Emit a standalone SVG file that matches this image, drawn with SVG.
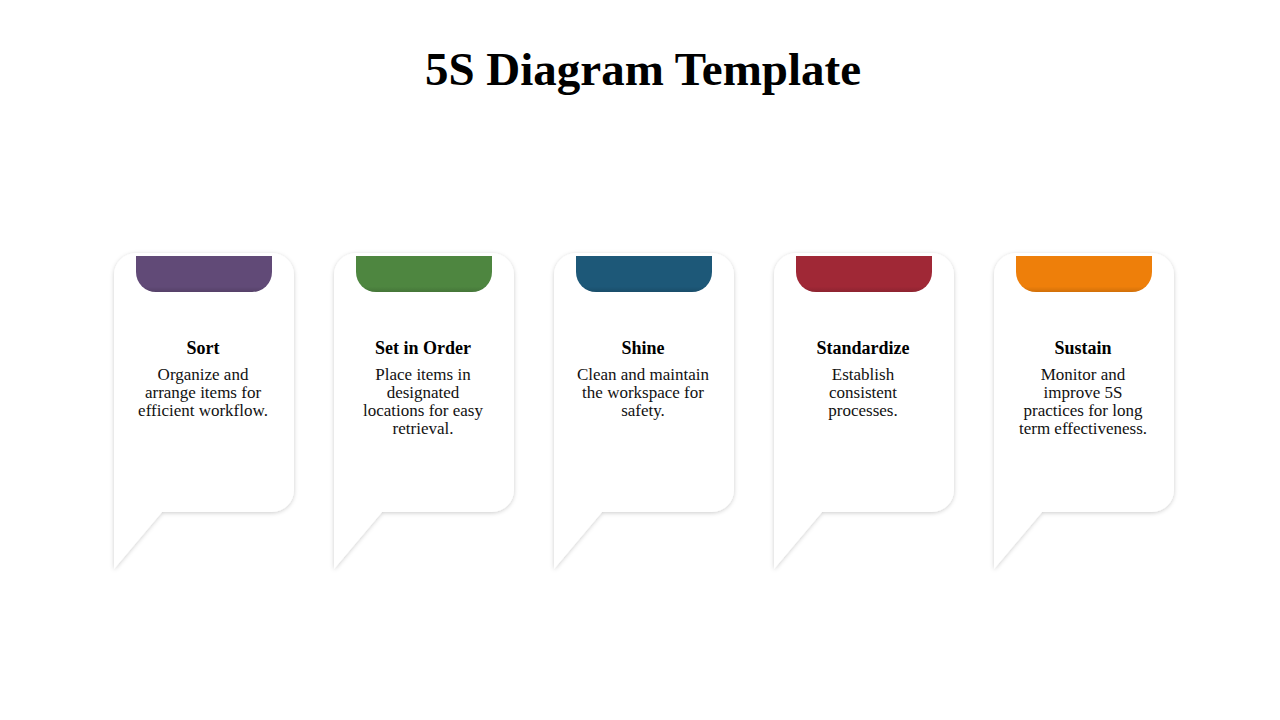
<svg xmlns="http://www.w3.org/2000/svg" width="1280" height="720" viewBox="0 0 1280 720">
<style>
.title{font-family:"Liberation Serif","DejaVu Serif",serif;font-weight:bold;font-size:47px;fill:#000;text-anchor:middle}
.head{font-family:"Liberation Serif","DejaVu Serif",serif;font-weight:bold;font-size:18px;fill:#000;text-anchor:middle}
.desc{font-family:"Liberation Serif","DejaVu Serif",serif;font-size:17px;fill:#111;text-anchor:middle}
.card{fill:#fff;filter:url(#sh)}
</style>
<defs>
<filter id="sh" x="-20%" y="-20%" width="140%" height="140%">
<feDropShadow dx="0" dy="1" stdDeviation="2.2" flood-color="#000" flood-opacity="0.2"/>
</filter>
<linearGradient id="shade" x1="0" y1="0" x2="0" y2="1">
<stop offset="0.85" stop-color="#000" stop-opacity="0"/>
<stop offset="1" stop-color="#000" stop-opacity="0.12"/>
</linearGradient>
<path id="cardShape" d="M-90,275 A22,22 0 0 1 -68,253 H68 A22,22 0 0 1 90,275 V490 A22,22 0 0 1 68,512 H-42 L-90,569 Z"/>
<path id="tabShape" d="M-68,256 H68 V272 A20,20 0 0 1 48,292 H-48 A20,20 0 0 1 -68,272 Z"/>
</defs>
<rect width="1280" height="720" fill="#fff"/>
<text class="title" x="643" y="85">5S Diagram Template</text>

<g id="node-sort" transform="translate(204,0)">
<use href="#cardShape" class="card"/>
<use href="#tabShape" fill="#614A77"/>
<use href="#tabShape" fill="url(#shade)"/>
<text class="head" x="-1" y="354">Sort</text>
<text class="desc" x="-1" y="380">Organize and</text>
<text class="desc" x="-1" y="398">arrange items for</text>
<text class="desc" x="-1" y="416">efficient workflow.</text>
</g>

<g id="node-set-in-order" transform="translate(424,0)">
<use href="#cardShape" class="card"/>
<use href="#tabShape" fill="#4E8640"/>
<use href="#tabShape" fill="url(#shade)"/>
<text class="head" x="-1" y="354">Set in Order</text>
<text class="desc" x="-1" y="380">Place items in</text>
<text class="desc" x="-1" y="398">designated</text>
<text class="desc" x="-1" y="416">locations for easy</text>
<text class="desc" x="-1" y="434">retrieval.</text>
</g>

<g id="node-shine" transform="translate(644,0)">
<use href="#cardShape" class="card"/>
<use href="#tabShape" fill="#1D5878"/>
<use href="#tabShape" fill="url(#shade)"/>
<text class="head" x="-1" y="354">Shine</text>
<text class="desc" x="-1" y="380">Clean and maintain</text>
<text class="desc" x="-1" y="398">the workspace for</text>
<text class="desc" x="-1" y="416">safety.</text>
</g>

<g id="node-standardize" transform="translate(864,0)">
<use href="#cardShape" class="card"/>
<use href="#tabShape" fill="#A02836"/>
<use href="#tabShape" fill="url(#shade)"/>
<text class="head" x="-1" y="354">Standardize</text>
<text class="desc" x="-1" y="380">Establish</text>
<text class="desc" x="-1" y="398">consistent</text>
<text class="desc" x="-1" y="416">processes.</text>
</g>

<g id="node-sustain" transform="translate(1084,0)">
<use href="#cardShape" class="card"/>
<use href="#tabShape" fill="#EE7F0A"/>
<use href="#tabShape" fill="url(#shade)"/>
<text class="head" x="-1" y="354">Sustain</text>
<text class="desc" x="-1" y="380">Monitor and</text>
<text class="desc" x="-1" y="398">improve 5S</text>
<text class="desc" x="-1" y="416">practices for long</text>
<text class="desc" x="-1" y="434">term effectiveness.</text>
</g>

<g id="connectors"></g>
</svg>
